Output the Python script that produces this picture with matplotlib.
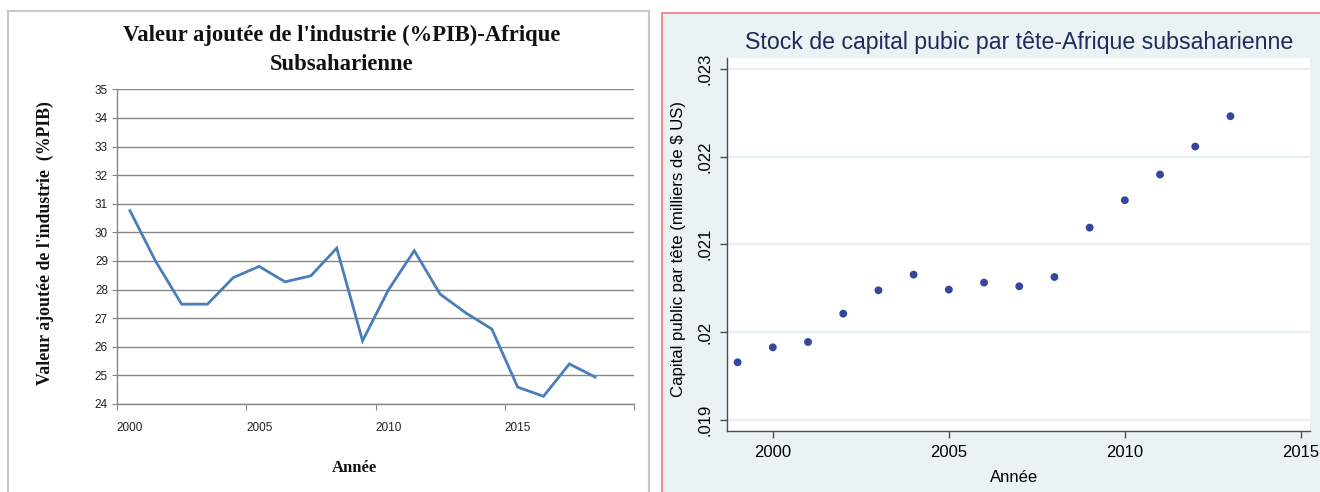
import numpy as np
import matplotlib
matplotlib.use("Agg")
import matplotlib.pyplot as plt
import matplotlib.ticker as ticker
from matplotlib.patches import Rectangle

# --- données panneau gauche (valeur ajoutée de l'industrie, %PIB) ---
annees_ind = [2000, 2001, 2002, 2003, 2004, 2005, 2006, 2007, 2008, 2009,
              2010, 2011, 2012, 2013, 2014, 2015, 2016, 2017, 2018]
va_industrie = [30.76, 28.98, 27.49, 27.49, 28.42, 28.81, 28.27, 28.48, 29.45, 26.21,
                27.99, 29.36, 27.84, 27.18, 26.62, 24.59, 24.27, 25.40, 24.94]
ind_labels = [2000, 2005, 2010, 2015]

# --- données panneau droit (stock de capital public par tête) ---
annees_cap = [1999, 2000, 2001, 2002, 2003, 2004, 2005, 2006, 2007, 2008,
              2009, 2010, 2011, 2012, 2013]
capital = [0.019654, 0.019825, 0.019886, 0.020209, 0.020475, 0.020654, 0.020483,
           0.020563, 0.020521, 0.020627, 0.021190, 0.021502, 0.021795, 0.022114,
           0.022460]
cap_yticks = [0.019, 0.020, 0.021, 0.022, 0.023]
cap_ylabels = [".019", ".02", ".021", ".022", ".023"]
cap_xticks = [2000, 2005, 2010, 2015]

W, H = 1320, 492
fig = plt.figure(figsize=(W / 100, H / 100), dpi=100)

def fx(px):
    return px / W

def fy(py):
    return 1 - py / H

# cadres des deux panneaux (derrière les axes)
fig.patches.append(Rectangle((fx(8), fy(500)), fx(641), 500 / H - 11 / H,
                             transform=fig.transFigure, facecolor='white',
                             edgecolor='#c8c8c8', linewidth=1.5, zorder=-10))
fig.patches.append(Rectangle((fx(662), fy(500)), fx(670), 500 / H - 13 / H,
                             transform=fig.transFigure, facecolor='#eaf2f3',
                             edgecolor='#f07878', linewidth=1.2, zorder=-10))

# ================= panneau gauche (style Excel) =================
gris = '#868686'
ax1 = fig.add_axes([fx(117), fy(404), fx(634 - 117), (404 - 89.3) / H])
ax1.patch.set_alpha(0)
x_ind = np.arange(len(annees_ind)) + 0.5
ax1.plot(x_ind, va_industrie, color='#4a7ebb', linewidth=2.0, solid_joinstyle='miter')
ax1.set_xlim(0, 20)
ax1.set_ylim(24, 35)
ax1.yaxis.set_major_locator(ticker.MultipleLocator(1))
ax1.grid(axis='y', color=gris, linewidth=1.0)
ax1.set_axisbelow(True)
for s in ['top', 'right']:
    ax1.spines[s].set_visible(False)
for s in ['left', 'bottom']:
    ax1.spines[s].set_color(gris)
    ax1.spines[s].set_linewidth(1.0)
# graduations aux frontières des catégories, étiquettes au centre
ax1.set_xticks([0, 5, 10, 15, 20])
ax1.set_xticklabels([])
ax1.set_xticks([annees_ind.index(a) + 0.5 for a in ind_labels], minor=True)
ax1.set_xticklabels([str(a) for a in ind_labels], minor=True)
ax1.tick_params(axis='x', which='major', length=4, color=gris, direction='out')
ax1.tick_params(axis='x', which='minor', length=0, pad=13)
ax1.tick_params(axis='y', length=3.5, color=gris, pad=3)
for lab in ax1.get_xticklabels(minor=True) + ax1.get_yticklabels():
    lab.set_fontfamily('Liberation Sans')
    lab.set_fontsize(8.5)
    lab.set_color('#222222')

serif_b = dict(family='Liberation Serif', weight='bold', color='#111111')
fig.text(fx(342), fy(35), "Valeur ajoutée de l'industrie (%PIB)-Afrique",
         ha='center', va='center', fontsize=16.3, **serif_b)
fig.text(fx(342), fy(65), "Subsaharienne", ha='center', va='center', fontsize=16.3, **serif_b)
ax1.set_ylabel("Valeur ajoutée de l'industrie  (%PIB)", fontsize=12.8, **serif_b)
ax1.yaxis.set_label_coords(fx(45), fy(243), transform=fig.transFigure)
ax1.yaxis.label.set_va('center')
ax1.set_xlabel("Année", fontsize=12, **serif_b)
ax1.xaxis.set_label_coords(fx(354), fy(468), transform=fig.transFigure)
ax1.xaxis.label.set_va('center')

# ================= panneau droit (style Stata) =================
fonce = '#4d4d4d'
ax2 = fig.add_axes([fx(726.7), fy(431), fx(1310 - 726.7), (431 - 58.3) / H])
ax2.set_facecolor('white')
ax2.scatter(annees_cap, capital, s=32, color='#34479a', edgecolors='none', zorder=3)
ax2.set_xlim(1998.69, 2015.26)
ax2.set_ylim(0.018871, 0.02312)
ax2.set_xticks(cap_xticks)
ax2.set_xticklabels([str(a) for a in cap_xticks])
ax2.set_yticks(cap_yticks)
ax2.set_yticklabels(cap_ylabels, rotation=90, va='center')
ax2.grid(axis='y', color='#e6eff1', linewidth=1.6)
ax2.set_axisbelow(True)
for s in ['top', 'right']:
    ax2.spines[s].set_visible(False)
for s in ['left', 'bottom']:
    ax2.spines[s].set_color(fonce)
    ax2.spines[s].set_linewidth(1.0)
ax2.tick_params(length=5, color=fonce, width=1.0, labelsize=12, pad=5)
for lab in ax2.get_xticklabels() + ax2.get_yticklabels():
    lab.set_fontfamily('Liberation Sans')
    lab.set_color('black')

fig.text(fx(1019), fy(43), "Stock de capital pubic par tête-Afrique subsaharienne",
         ha='center', va='center', fontsize=16.7, family='Liberation Sans', color='#1f2b5c')
ax2.set_ylabel("Capital public par tête (milliers de $ US)", fontsize=12.1,
               family='Liberation Sans', color='black')
ax2.yaxis.set_label_coords(fx(679), fy(249), transform=fig.transFigure)
ax2.yaxis.label.set_va('center')
ax2.set_xlabel("Année", fontsize=12, family='Liberation Sans', color='black')
ax2.xaxis.set_label_coords(fx(1014), fy(478), transform=fig.transFigure)
ax2.xaxis.label.set_va('center')

fig.savefig("out.png", dpi=100)
